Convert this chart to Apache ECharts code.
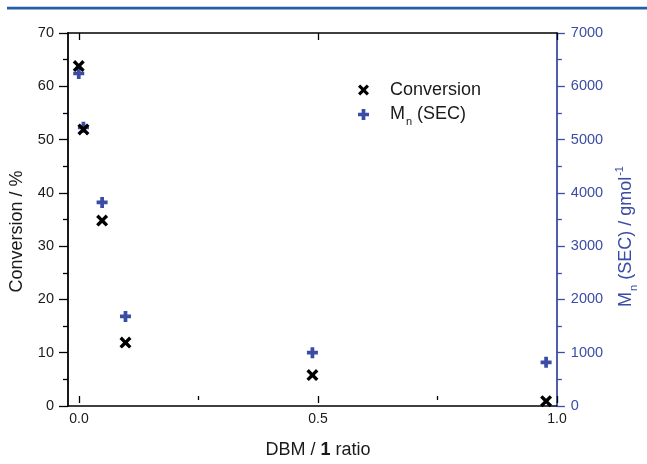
<!DOCTYPE html>
<html><head><meta charset="utf-8">
<script src="https://cdn.jsdelivr.net/npm/echarts@6/dist/echarts.min.js"></script>
<style>html,body{margin:0;padding:0;background:#fff}#c{width:647px;height:464px}</style>
</head><body><div id="c"></div>
<script>
const ratio = [0, 0.01, 0.05, 0.1, 0.5, 1.0];
const conversion = [63.8, 51.9, 34.8, 11.9, 5.8, 0.9];
const mnSEC = [6240, 5230, 3820, 1680, 1000, 820];
const xTicks = [0, 0.5, 1.0];
const leftTicks = [0, 10, 20, 30, 40, 50, 60, 70];
const rightTicks = [0, 1000, 2000, 3000, 4000, 5000, 6000, 7000];

const BLUE = '#3b4ca4';
const INK = '#1a1a1a';
const FONT = '"Liberation Sans", Arial, sans-serif';
const X_SYM = 'path://M0,2 L2,0 L5,3 L8,0 L10,2 L7,5 L10,8 L8,10 L5,7 L2,10 L0,8 L3,5 Z';
const P_SYM = 'path://M3.3,0 H6.7 V3.3 H10 V6.7 H6.7 V10 H3.3 V6.7 H0 V3.3 H3.3 Z';

const G_LEFT = 68, G_RIGHT = 79, G_TOP = 33, G_BOTTOM = 58;
const XMIN = -0.023, XMAX = 1.023;
const W = 647 - G_LEFT - G_RIGHT;
const pxPerUnit = W / (XMAX - XMIN);
const innerLeft = G_LEFT + (xTicks[0] - XMIN) * pxPerUnit;
const innerRight = 647 - (innerLeft + pxPerUnit * (xTicks[xTicks.length - 1] - xTicks[0]));

const chart = echarts.init(document.getElementById('c'), null, {renderer: 'canvas'});
chart.setOption({
  animation: false,
  backgroundColor: '#fff',
  textStyle: {fontFamily: FONT},
  graphic: [{type: 'rect', shape: {x: 7, y: 6.8, width: 640, height: 2.6}, style: {fill: '#245ea9'}}],
  grid: [
    {left: G_LEFT, right: G_RIGHT, top: G_TOP, bottom: G_BOTTOM},
    {left: innerLeft, right: innerRight, top: G_TOP, bottom: G_BOTTOM}
  ],
  legend: {
    left: 353, top: 76, orient: 'vertical', itemWidth: 43, itemHeight: 11, itemGap: 3,
    symbolKeepAspect: true,
    textStyle: {fontSize: 18, color: INK, fontFamily: FONT,
      rich: {a: {fontSize: 18, lineHeight: 20, color: INK, fontFamily: FONT},
             sub: {fontSize: 11, lineHeight: 6, color: INK, fontFamily: FONT, padding: [14, 0, 0, 1]}}},
    formatter: n => n === 'Mn (SEC)' ? '{a|M}{sub|n}{a| (SEC)}' : '{a|' + n + '}',
    data: [{name: 'Conversion', icon: X_SYM, itemStyle: {color: '#000', opacity: 1}}, {name: 'Mn (SEC)', icon: P_SYM, itemStyle: {color: BLUE, opacity: 1}}]
  },
  xAxis: [
    {gridIndex: 0, type: 'value', min: XMIN, max: XMAX, position: 'bottom',
      axisLine: {onZero: false, lineStyle: {color: '#000', width: 1.6}}, axisTick: {show: false}, axisLabel: {show: false}, splitLine: {show: false}},
    {gridIndex: 0, type: 'value', min: XMIN, max: XMAX, position: 'top',
      axisLine: {onZero: false, lineStyle: {color: '#000', width: 1.6}}, axisTick: {show: false}, axisLabel: {show: false}, splitLine: {show: false}},
    {gridIndex: 1, type: 'value', min: xTicks[0], max: xTicks[xTicks.length - 1], interval: 0.5, position: 'bottom',
      axisLine: {show: false, onZero: false}, axisTick: {show: true, length: 7, lineStyle: {color: '#000', width: 1.3}},
      minorTick: {show: true, splitNumber: 2, length: 4, lineStyle: {color: '#000', width: 1.3}},
      axisLabel: {margin: 16, fontSize: 14, color: INK, fontFamily: FONT, formatter: v => v.toFixed(1)},
      splitLine: {show: false},
      name: '{a|DBM / }{b|1}{a| ratio}', nameLocation: 'middle', nameGap: 45,
      nameTextStyle: {rich: {a: {fontSize: 18, color: INK, fontFamily: FONT}, b: {fontSize: 18, color: INK, fontWeight: 'bold', fontFamily: FONT}}}},
    {gridIndex: 1, type: 'value', min: xTicks[0], max: xTicks[xTicks.length - 1], interval: 0.5, position: 'top',
      axisLine: {show: false, onZero: false}, axisTick: {show: true, inside: true, length: 7, lineStyle: {color: '#000', width: 1.3}},
      minorTick: {show: false}, axisLabel: {show: false}, splitLine: {show: false}}
  ],
  yAxis: [
    {gridIndex: 0, type: 'value', min: leftTicks[0], max: leftTicks[leftTicks.length - 1], interval: 10, position: 'left',
      axisLine: {show: true, onZero: false, lineStyle: {color: '#000', width: 1.8}},
      axisTick: {show: true, length: 9, lineStyle: {color: '#000', width: 1.3}},
      minorTick: {show: true, splitNumber: 2, length: 5, lineStyle: {color: '#000', width: 1.3}},
      axisLabel: {margin: 14, fontSize: 14.5, color: INK, fontFamily: FONT, formatter: v => String(v)},
      splitLine: {show: false},
      name: 'Conversion / %', nameLocation: 'middle', nameGap: 42, nameRotate: 90,
      nameTextStyle: {fontSize: 18, color: INK, fontFamily: FONT, padding: [0, 24, 0, 0]}},
    {gridIndex: 0, type: 'value', min: rightTicks[0], max: rightTicks[rightTicks.length - 1], interval: 1000, position: 'right',
      axisLine: {show: true, onZero: false, lineStyle: {color: BLUE, width: 1.8}},
      axisTick: {show: true, length: 8, lineStyle: {color: BLUE, width: 1.3}},
      minorTick: {show: true, splitNumber: 2, length: 5, lineStyle: {color: BLUE, width: 1.3}},
      axisLabel: {margin: 14, fontSize: 14.5, color: BLUE, fontFamily: FONT, formatter: v => String(v)},
      splitLine: {show: false},
      name: '{a|M}{sub|n}{a| (SEC) / gmol}{sup|-1}', nameLocation: 'middle', nameGap: 52, nameRotate: 90,
      nameTextStyle: {padding: [0, 34, 0, 0], rich: {
        a: {fontSize: 18, lineHeight: 20, color: BLUE, fontFamily: FONT},
        sub: {fontSize: 11, lineHeight: 6, color: BLUE, fontFamily: FONT, padding: [14, 0, 0, 1]},
        sup: {fontSize: 11, lineHeight: 6, color: BLUE, fontFamily: FONT, padding: [0, 0, 13, 1]}}}},
    {gridIndex: 1, type: 'value', min: 0, max: 1, show: false}
  ],
  series: [
    {name: 'Conversion', type: 'scatter', xAxisIndex: 0, yAxisIndex: 0, symbol: X_SYM, symbolSize: 12,
      itemStyle: {color: '#000', opacity: 1}, data: ratio.map((x, i) => [x, conversion[i]]), z: 3},
    {name: 'Mn (SEC)', type: 'scatter', xAxisIndex: 0, yAxisIndex: 1, symbol: P_SYM, symbolSize: 11,
      itemStyle: {color: BLUE, opacity: 1}, data: ratio.map((x, i) => [x, mnSEC[i]]), z: 2}
  ]
});
</script></body></html>
